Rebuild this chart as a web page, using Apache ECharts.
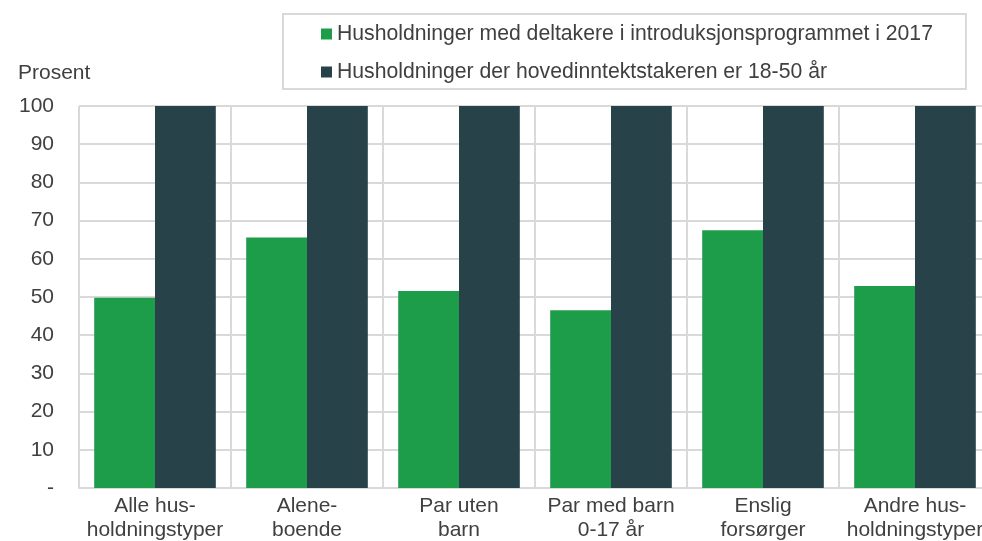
<!DOCTYPE html>
<html>
<head>
<meta charset="utf-8">
<script src="https://cdn.jsdelivr.net/npm/echarts@6/dist/echarts.min.js"></script>
<style>
  html, body { margin: 0; padding: 0; background: #fff; }
  #chart { width: 982px; height: 541px; }
</style>
</head>
<body>
<div id="chart"></div>
<script>
// kategorier (to linjer per etikett)
var categories = [
  "Alle hus-\nholdningstyper",
  "Alene-\nboende",
  "Par uten\nbarn",
  "Par med barn\n0-17 år",
  "Enslig\nforsørger",
  "Andre hus-\nholdningstyper"
];
var seriesNames = [
  "Husholdninger med deltakere i introduksjonsprogrammet i 2017",
  "Husholdninger der hovedinntektstakeren er 18-50 år"
];
var introData = [49.8, 65.6, 51.6, 46.5, 67.5, 52.9]; // deltakere i introprogram
var refData = [100, 100, 100, 100, 100, 100];        // 18-50 år
var yTicks = [0, 10, 20, 30, 40, 50, 60, 70, 80, 90, 100];

var textColor = "#404040";
var gridColor = "#d9d9d9";
var font = "'Liberation Sans', Arial, sans-serif";

var myChart = echarts.init(document.getElementById("chart"));
myChart.setOption({
  animation: false,
  color: ["#1d9c4a", "#28424a"],
  textStyle: { fontFamily: font },
  // plottet går litt utenfor høyre kant, som i originalen
  grid: {
    left: 79,
    width: 912,
    top: 106,
    bottom: 53,
    containLabel: false,
    outerBoundsMode: "none"
  },
  title: {
    text: "Prosent",
    left: 13,
    top: 58,
    textStyle: { fontFamily: font, fontSize: 21, fontWeight: "normal", color: textColor }
  },
  legend: {
    data: seriesNames,
    orient: "vertical",
    left: 283,
    top: 14,
    padding: [9, 33, 6, 38],
    itemGap: 16,
    itemWidth: 11,
    itemHeight: 11,
    icon: "rect",
    borderColor: gridColor,
    borderWidth: 2,
    textStyle: { fontFamily: font, fontSize: 21.2, lineHeight: 22, color: textColor }
  },
  xAxis: {
    type: "category",
    data: categories,
    axisTick: { show: false },
    axisLine: { show: true, lineStyle: { color: gridColor, width: 2 } },
    splitLine: { show: true, lineStyle: { color: gridColor, width: 2 } },
    axisLabel: {
      interval: 0,
      margin: 6,
      fontFamily: font,
      fontSize: 21,
      lineHeight: 24,
      color: textColor
    }
  },
  yAxis: {
    type: "value",
    min: yTicks[0],
    max: yTicks[yTicks.length - 1],
    interval: 10,
    axisLine: { show: false },
    axisTick: { show: false },
    splitLine: { show: true, lineStyle: { color: gridColor, width: 2 } },
    axisLabel: {
      margin: 25,
      fontFamily: font,
      fontSize: 21,
      color: textColor,
      formatter: function (v) { return v === 0 ? "-" : String(v); }
    }
  },
  series: [
    {
      name: seriesNames[0],
      type: "bar",
      data: introData,
      barGap: "0%",
      barCategoryGap: "20%"
    },
    {
      name: seriesNames[1],
      type: "bar",
      data: refData,
      barGap: "0%",
      barCategoryGap: "20%"
    }
  ]
});
</script>
</body>
</html>
